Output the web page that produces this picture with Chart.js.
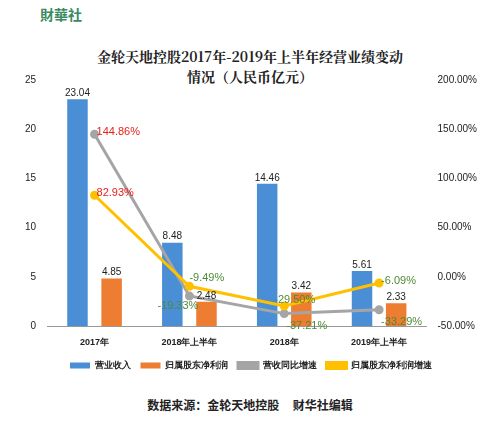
<!DOCTYPE html><html><head><meta charset="utf-8">
<script src="https://cdn.jsdelivr.net/npm/chart.js@4"></script>
<style>body{margin:0;background:#fff;font-family:"Noto Sans CJK SC";}
#w{position:relative;width:500px;height:432px;}
#t{position:absolute;top:46px;left:0;width:500px;text-align:center;font:bold 14px "Noto Serif CJK SC","Noto Sans CJK SC";line-height:20px;color:#222}
#s{position:absolute;top:396px;left:0;width:500px;text-align:center;font:bold 12px "Noto Sans CJK SC";color:#222}
#logo{position:absolute;top:4px;left:40px;font:bold 14px "Noto Sans CJK TC";color:#3a8a60}
#c{position:absolute;top:0;left:0}
</style></head><body><div id="w">
<div id="logo">財華社</div>
<div id="t">金轮天地控股2017年-2019年上半年经营业绩变动<br>情况（人民币亿元）</div>
<canvas id="c" width="500" height="380"></canvas>
<div id="s">数据来源：金轮天地控股&nbsp;&nbsp;&nbsp;&nbsp;&nbsp;财华社编辑</div>
</div>
<script>
const categories=["2017年","2018年上半年","2018年","2019年上半年"];
const revenue=[23.04,8.48,14.46,5.61];
const profit=[4.85,2.48,3.42,2.33];
const revGrowth=[144.86,-19.33,-37.21,-33.29];
const profitGrowth=[82.93,-9.49,-29.50,-6.09];
const pct=v=>v.toFixed(2)+"%";
const labelPlugin={id:"lbl",afterDatasetsDraw(ch){const x=ch.ctx;x.save();x.font="10px Arial";
ch.data.datasets.forEach((ds,i)=>{const m=ch.getDatasetMeta(i);m.data.forEach((e,j)=>{const v=ds.data[j];
if(i<2){x.fillStyle="#222";x.font="10px Arial";x.textAlign="center";x.fillText(v.toFixed(2),e.x,e.y-6);}
else{x.fillStyle=j==0?"#e8201c":"#4e8a3a";x.textAlign="left";x.font="11px Arial";
let dy=i==2?(j==0?-2:j==1?10:12):-2; let dx=i==2&&j==1?-32:2;
if(i==3&&j==1){dx=0;dy=-8;}
if(i==3&&j==2){dx=-10;dy=-6;}
x.fillText(pct(v),e.x+dx,e.y+dy);}});});x.restore();}};
new Chart(document.getElementById("c"),{data:{labels:categories,datasets:[
{type:"bar",label:"营业收入",data:revenue,backgroundColor:"#4a8ed6",yAxisID:"y",barPercentage:0.6,categoryPercentage:0.72,order:3},
{type:"bar",label:"归属股东净利润",data:profit,backgroundColor:"#ed7d31",yAxisID:"y",barPercentage:0.6,categoryPercentage:0.72,order:3},
{type:"line",label:"营收同比增速",data:revGrowth,borderColor:"#a5a5a5",backgroundColor:"#a5a5a5",borderWidth:3,pointRadius:3,yAxisID:"y1",order:1},
{type:"line",label:"归属股东净利润增速",data:profitGrowth,borderColor:"#ffc000",backgroundColor:"#ffc000",borderWidth:3,pointRadius:3,yAxisID:"y1",order:0}]},
options:{responsive:false,animation:false,layout:{padding:{top:80,left:22,right:20,bottom:0}},
plugins:{legend:{position:"bottom",labels:{sort:(a,b)=>a.datasetIndex-b.datasetIndex,boxWidth:20,boxHeight:6,font:{size:9,weight:"bold"},color:"#222"}},tooltip:{enabled:false}},
scales:{x:{grid:{display:false},ticks:{font:{size:9,weight:"bold"},color:"#222"},border:{color:"#999"}},
y:{min:0,max:25,ticks:{stepSize:5,font:{size:10},color:"#222"},grid:{display:false},border:{display:false}},
y1:{position:"right",min:-50,max:200,ticks:{stepSize:50,callback:v=>v.toFixed(2)+"%",font:{size:10},color:"#222"},grid:{display:false},border:{display:false}}}},
plugins:[labelPlugin]});
</script></body></html>
